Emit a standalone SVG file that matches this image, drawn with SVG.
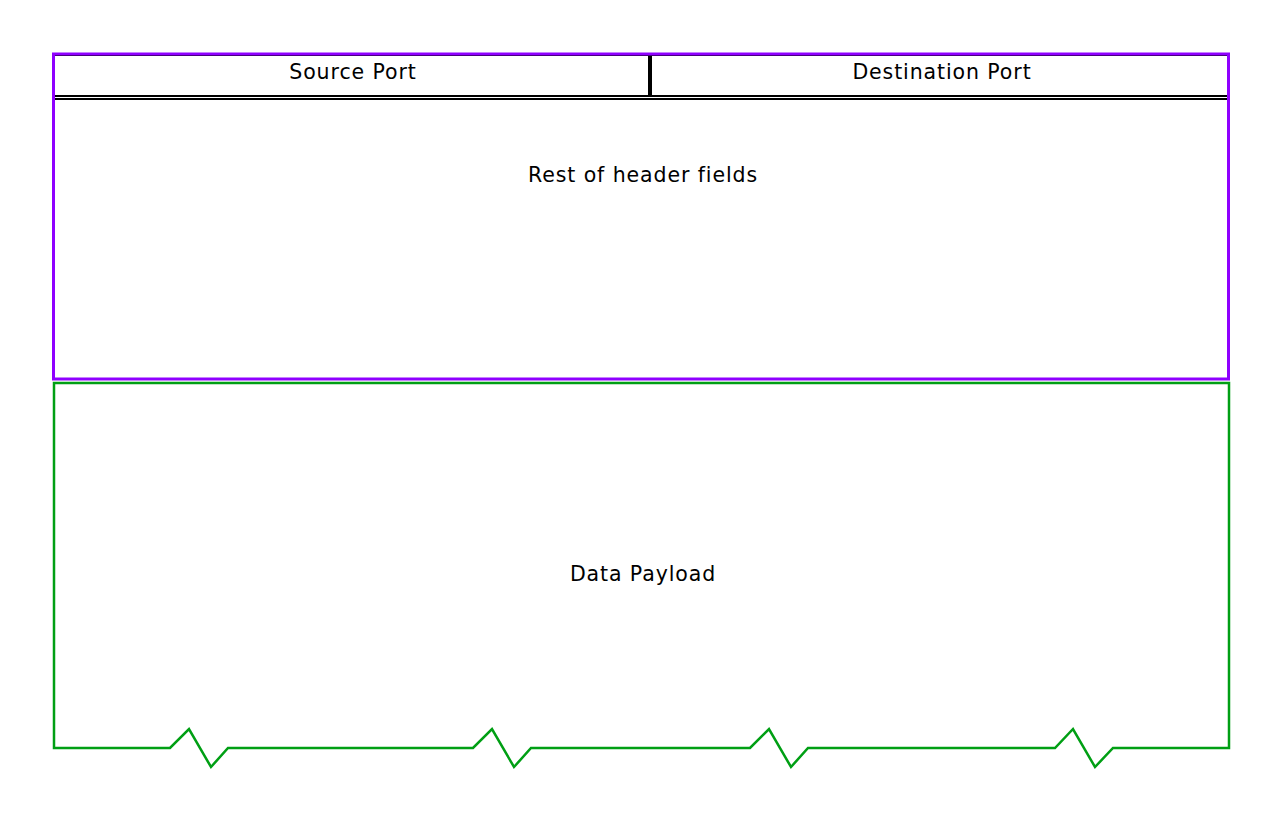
<svg xmlns="http://www.w3.org/2000/svg" width="1272" height="836" viewBox="0 0 1272 836">
<style>
.t{font-family:"DejaVu Sans","Liberation Sans",Arial,sans-serif;font-size:20.5px;letter-spacing:0.9px;fill:#000;text-anchor:middle;dominant-baseline:central}
.box{fill:none;stroke:#000;stroke-width:2}
</style>
<rect width="1272" height="836" fill="#fff"/>
<g id="source-port">
<rect class="box" x="54" y="55" width="595" height="41"/>
<text class="t" x="353" y="72">Source Port</text>
</g>
<g id="destination-port">
<rect class="box" x="651" y="55" width="577" height="41"/>
<text class="t" x="942" y="72">Destination Port</text>
</g>
<g id="rest-header">
<rect class="box" x="54" y="99" width="1174" height="280"/>
<text class="t" x="643" y="175">Rest of header fields</text>
</g>
<g id="header-frame">
<rect x="53.5" y="54" width="1175" height="325" fill="none" stroke="#8f00ff" stroke-width="3"/>
</g>
<g id="data-payload">
<path d="M54,383 H1229 V748 H1113 L1095,767 L1073,729 L1055,748 H808 L791,767 L769,729 L750,748 H531 L514,767 L492,729 L473,748 H228 L211,767 L189,729 L170,748 H54 Z" fill="none" stroke="#009f14" stroke-width="2.5" stroke-linejoin="miter"/>
<text class="t" x="643" y="574">Data Payload</text>
</g>
<g id="connectors"></g>
</svg>
